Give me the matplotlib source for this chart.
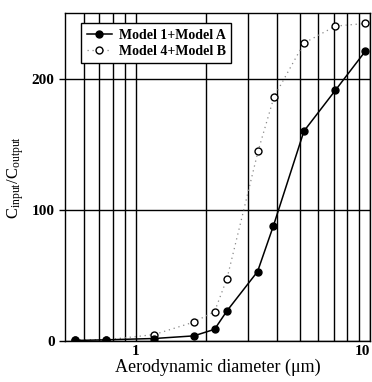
import matplotlib
matplotlib.use('Agg')
import matplotlib.pyplot as plt
from matplotlib.ticker import FixedLocator, NullFormatter

plt.rcParams['font.family'] = ['Liberation Serif', 'DejaVu Serif']
plt.rcParams['mathtext.fontset'] = 'custom'
plt.rcParams['mathtext.rm'] = 'Liberation Serif'
plt.rcParams['mathtext.it'] = 'Liberation Serif'

# data
diam_a = [0.55, 0.75, 1.2, 1.77, 2.17, 2.45, 3.31, 3.87, 5.22, 7.1, 9.55]
ratio_a = [0.5, 1, 2, 4, 9, 23, 53, 88, 160, 191, 221]

diam_b = [0.55, 0.75, 1.2, 1.77, 2.17, 2.45, 3.33, 3.89, 5.22, 7.1, 9.5]
ratio_b = [1, 1, 5, 14.5, 22.5, 47.5, 145, 186, 227, 240, 242]

fig = plt.figure(figsize=(3.72, 3.82), dpi=100)
ax = fig.add_axes([0.175, 0.107, 0.82, 0.859])

ax.plot(diam_b, ratio_b, linestyle=(0, (1, 3)), color='#888888', lw=0.9,
        marker='o', mfc='white', mec='black', ms=5, mew=1.0,
        label='Model 4+Model B', zorder=3)
ax.plot(diam_a, ratio_a, '-', color='black', lw=1.1,
        marker='o', mfc='black', mec='black', ms=5,
        label='Model 1+Model A', zorder=4)

ax.set_xscale('log')
ax.set_xlim(0.5, 10)
ax.set_ylim(0, 250)
ax.set_yticks([0, 100, 200])
ax.set_xticks([1, 10])
ax.set_xticklabels(['1', '10'])
ax.xaxis.set_minor_locator(FixedLocator([0.6, 0.7, 0.8, 0.9, 2, 3, 4, 5, 6, 7, 8, 9]))
ax.xaxis.set_minor_formatter(NullFormatter())

ax.grid(True, which='both', axis='x', color='black', lw=1.0)
ax.grid(True, which='major', axis='y', color='black', lw=1.0)
ax.set_axisbelow(True)

ax.tick_params(axis='x', which='both', length=0, pad=3, labelsize=11)
ax.tick_params(axis='y', length=4, width=1, labelsize=11)
for lbl in ax.get_xticklabels() + ax.get_yticklabels():
    lbl.set_fontweight('bold')
ax.get_xticklabels()[1].set_horizontalalignment('right')
for s in ax.spines.values():
    s.set_color('black')
    s.set_linewidth(1.0)

ax.set_xlabel('Aerodynamic diameter (\u03bcm)', fontsize=13, labelpad=0)
ax.set_ylabel(r'C$_{\mathrm{input}}$/C$_{\mathrm{output}}$', fontsize=12, labelpad=4)

handles, labels = ax.get_legend_handles_labels()
leg = ax.legend(handles[::-1], labels[::-1], loc='upper left',
                bbox_to_anchor=(0.03, 0.99), fancybox=False, framealpha=1,
                edgecolor='black', prop={'weight': 'bold', 'size': 10},
                handlelength=1.8, borderpad=0.4, labelspacing=0.2,
                handletextpad=0.5)
leg.get_frame().set_linewidth(1.0)

fig.savefig('out.png', dpi=100)
